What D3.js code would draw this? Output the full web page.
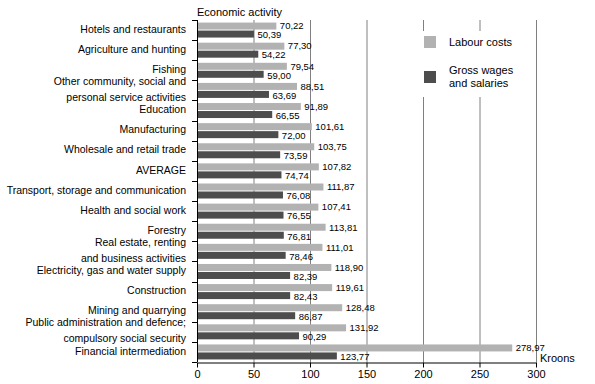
<!DOCTYPE html>
<html>
<head>
<meta charset="utf-8">
<script src="https://cdn.jsdelivr.net/npm/d3@7"></script>
<style>
  body { margin: 0; background: #fff; }
  svg { display: block; font-family: "Liberation Sans", Arial, sans-serif; }
</style>
</head>
<body>
<svg id="chart" width="595" height="384"></svg>
<script>
// Data
var categories = [
  "Hotels and restaurants",
  "Agriculture and hunting",
  "Fishing",
  "Other community, social and\npersonal service activities",
  "Education",
  "Manufacturing",
  "Wholesale and retail trade",
  "AVERAGE",
  "Transport, storage and communication",
  "Health and social work",
  "Forestry",
  "Real estate, renting\nand business activities",
  "Electricity, gas and water supply",
  "Construction",
  "Mining and quarrying",
  "Public administration and defence;\ncompulsory social security",
  "Financial intermediation"
];
var labourCosts = [70.22, 77.30, 79.54, 88.51, 91.89, 101.61, 103.75, 107.82, 111.87,
                   107.41, 113.81, 111.01, 118.90, 119.61, 128.48, 131.92, 278.97];
var grossWages = [50.39, 54.22, 59.00, 63.69, 66.55, 72.00, 73.59, 74.74, 76.08,
                  76.55, 76.81, 78.46, 82.39, 82.43, 86.87, 90.29, 123.77];
var seriesNames = ["Labour costs", "Gross wages\nand salaries"];
var seriesColors = ["#b2b2b2", "#4d4d4d"];
var xTicks = [0, 50, 100, 150, 200, 250, 300];

// Layout
var plotLeft = 197, plotRight = 536, plotTop = 20, plotBottom = 362;
var svg = d3.select("#chart");

var x = d3.scaleLinear().domain([0, 300]).range([plotLeft, plotRight]);
var y = d3.scaleBand().domain(categories).range([plotTop, plotBottom]);
var sub = d3.scaleBand().domain([0, 1]).range([0, y.bandwidth()])
  .paddingInner(0.125).paddingOuter(0.32);

var fmt = function(v) { return v.toFixed(2).replace(".", ","); };

// gridlines
svg.append("g").selectAll("line")
  .data(xTicks.slice(1))
  .join("line")
    .attr("x1", function(d) { return x(d) + 0.5; })
    .attr("x2", function(d) { return x(d) + 0.5; })
    .attr("y1", plotTop)
    .attr("y2", plotBottom)
    .attr("stroke", "#808080")
    .attr("stroke-width", 1);

// legend box (hides the grid behind it)
var legend = svg.append("g");
legend.append("rect")
  .attr("x", 412).attr("y", 31).attr("width", 116).attr("height", 66)
  .attr("fill", "#fff");

// bars
var rows = categories.map(function(c, i) {
  return { cat: c, vals: [labourCosts[i], grossWages[i]] };
});

var groups = svg.append("g").selectAll("g")
  .data(rows)
  .join("g")
    .attr("transform", function(d) { return "translate(0," + y(d.cat) + ")"; });

groups.selectAll("rect")
  .data(function(d) { return d.vals; })
  .join("rect")
    .attr("x", x(0))
    .attr("y", function(d, i) { return sub(i); })
    .attr("width", function(d) { return x(d) - x(0); })
    .attr("height", sub.bandwidth())
    .attr("fill", function(d, i) { return seriesColors[i]; });

groups.selectAll("text")
  .data(function(d) { return d.vals; })
  .join("text")
    .attr("x", function(d) { return x(d) + 3.5; })
    .attr("y", function(d, i) { return sub(i) + sub.bandwidth() / 2 + (i ? 1 : 0); })
    .attr("dy", "0.35em")
    .attr("font-size", "9.5px")
    .attr("fill", "#000")
    .text(fmt);

// y axis
svg.append("line")
  .attr("x1", plotLeft + 0.5).attr("x2", plotLeft + 0.5)
  .attr("y1", plotTop).attr("y2", plotBottom)
  .attr("stroke", "#000");
var bounds = categories.map(function(c) { return y(c); }).concat([plotBottom]);
svg.append("g").selectAll("line")
  .data(bounds)
  .join("line")
    .attr("x1", plotLeft - 5).attr("x2", plotLeft)
    .attr("y1", function(d) { return Math.round(d) + 0.5; })
    .attr("y2", function(d) { return Math.round(d) + 0.5; })
    .attr("stroke", "#000");

var catLabels = svg.append("g").selectAll("text")
  .data(categories)
  .join("text")
    .attr("text-anchor", "end")
    .attr("font-size", "10.5px")
    .attr("fill", "#000");
catLabels.each(function(d) {
  var lines = d.split("\n");
  var cy = y(d) + y.bandwidth() / 2 - 1;
  var lh = 16;
  var t = d3.select(this);
  lines.forEach(function(line, k) {
    t.append("tspan")
      .attr("x", 186)
      .attr("y", cy + (k - (lines.length - 1) / 2) * lh)
      .attr("dy", "0.35em")
      .text(line);
  });
});

// x axis
var xAxis = svg.append("g")
  .attr("transform", "translate(0," + (plotBottom + 0.5) + ")")
  .call(d3.axisBottom(x).tickValues(xTicks).tickSize(5).tickSizeOuter(0).tickFormat(d3.format("d")));
xAxis.select(".domain").attr("stroke", "#000");
xAxis.selectAll(".tick line").attr("stroke", "#000");
xAxis.selectAll(".tick text")
  .attr("font-family", "Liberation Sans, Arial, sans-serif")
  .attr("font-size", "11px")
  .attr("fill", "#000")
  .attr("y", 8);

// titles
svg.append("text")
  .attr("x", 197).attr("y", 12).attr("dy", "0.35em")
  .attr("font-size", "11px")
  .text("Economic activity");
svg.append("text")
  .attr("x", 540).attr("y", 358).attr("dy", "0.35em")
  .attr("font-size", "11px")
  .text("Kroons");

// legend entries
seriesNames.forEach(function(name, i) {
  var sy = [36, 71][i];
  legend.append("rect")
    .attr("x", 424).attr("y", sy).attr("width", 12).attr("height", 12)
    .attr("fill", seriesColors[i]);
  var lines = name.split("\n");
  var t = legend.append("text").attr("font-size", "11px");
  lines.forEach(function(line, k) {
    t.append("tspan")
      .attr("x", 449)
      .attr("y", sy + 6 + (k - (lines.length - 1) / 2) * 13)
      .attr("dy", "0.35em")
      .text(line);
  });
});
</script>
</body>
</html>
